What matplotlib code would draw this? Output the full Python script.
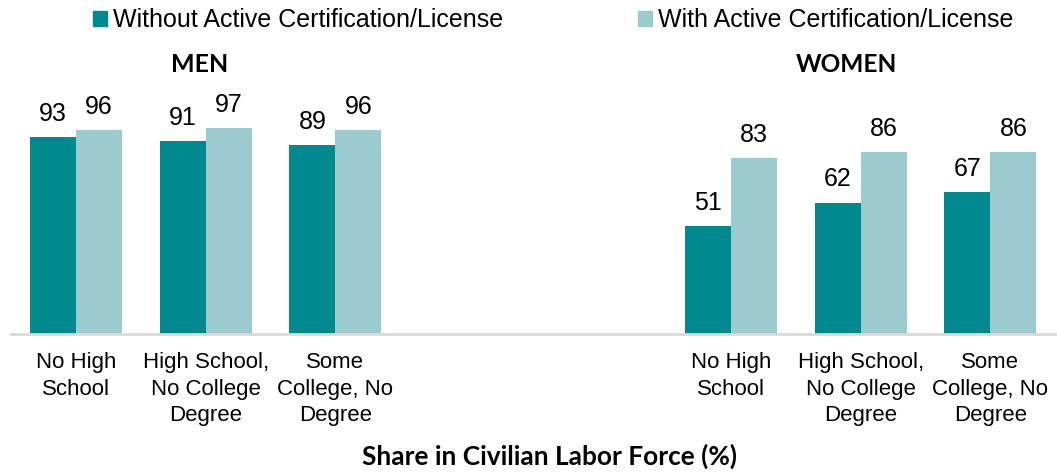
import numpy as np
import matplotlib
matplotlib.use("Agg")
import matplotlib.pyplot as plt
from matplotlib.patches import Patch

# data
categories = ["No High\nSchool", "High School,\nNo College\nDegree", "Some\nCollege, No\nDegree"]
men_without = [93, 91, 89]
men_with = [96, 97, 96]
women_without = [51, 62, 67]
women_with = [83, 86, 86]
series_names = ["Without Active Certification/License", "With Active Certification/License"]

dark = "#00898F"
light = "#9BCBCE"

plt.rcParams["font.family"] = ["Liberation Sans", "DejaVu Sans"]

fig = plt.figure(figsize=(10.57, 4.72), dpi=100)
ax = fig.add_axes([11 / 1057, (472 - 334) / 472, 1046 / 1057, 115 * 2.12 / 472])

bw = 0.355
men_x = np.arange(3)
women_x = np.arange(3) + 5.05

groups = [(men_x, men_without, men_with), (women_x, women_without, women_with)]
for xs, v_without, v_with in groups:
    b1 = ax.bar(xs - bw / 2, v_without, bw, color=dark)
    b2 = ax.bar(xs + bw / 2, v_with, bw, color=light)
    ax.bar_label(b1, padding=8, fontsize=18)
    ax.bar_label(b2, padding=8, fontsize=18)

ax.set_xlim(-0.501, 7.564)
ax.set_ylim(0, 115)
ax.set_xticks(list(men_x) + list(women_x))
ax.set_xticklabels(categories + categories, fontsize=16, linespacing=1.35)
ax.tick_params(axis="x", length=0, pad=13)
ax.set_yticks([])
for s in ["left", "right", "top"]:
    ax.spines[s].set_visible(False)
ax.spines["bottom"].set_color("#D9D9D9")
ax.spines["bottom"].set_linewidth(2)

# panel titles
fig.text(200 / 1057, 1 - 65 / 472, "MEN", family="Lato", weight="bold",
         fontsize=18, ha="center", va="center")
fig.text(846 / 1057, 1 - 64 / 472, "WOMEN", family="Lato", weight="bold",
         fontsize=17.6, ha="center", va="center")

# x axis title
fig.text(549 / 1057, 1 - 456 / 472, "Share in Civilian Labor Force (%)", family="Lato",
         weight="bold", fontsize=18.9, ha="center", va="center")

handles = [Patch(color=dark), Patch(color=light)]
fig.legend(handles, series_names, loc="center", bbox_to_anchor=(553 / 1057, 1 - 20 / 472),
           ncol=2, frameon=False, fontsize=18, handlelength=0.55, handleheight=0.55,
           handletextpad=0.25, columnspacing=5.4, borderpad=0)

fig.savefig("out.png", dpi=100)
